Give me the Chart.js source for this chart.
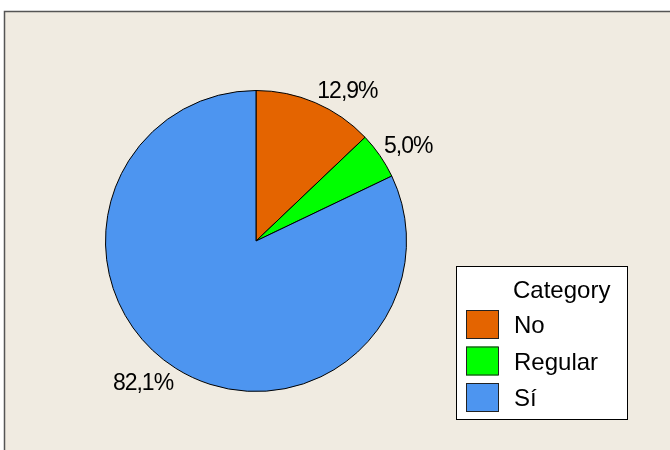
<!DOCTYPE html>
<html>
<head>
<meta charset="utf-8">
<script src="https://cdn.jsdelivr.net/npm/chart.js@4.4.1/dist/chart.umd.min.js"></script>
<style>
    html, body { margin: 0; padding: 0; background: #ffffff; }
    canvas { display: block; }
</style>
</head>
<body>
<canvas id="pieChart" width="670" height="450"></canvas>
<script>
// Respuestas por categoría (%)
var categories = ['No', 'Regular', 'Sí'];
var percents = [12.9, 5.0, 82.1];
var sliceColors = ['#e46400', '#00ff00', '#4d95f0'];
var legendTitle = 'Category';

var FONT = '"Liberation Sans", Arial, sans-serif';

// Beige panel with the dark frame on top/left
var framePlugin = {
    id: 'frame',
    beforeDraw: function (chart) {
        var ctx = chart.ctx;
        ctx.save();
        ctx.fillStyle = '#ffffff';
        ctx.fillRect(0, 0, chart.width, chart.height);
        ctx.fillStyle = '#f0ebe1';
        ctx.fillRect(4, 11, chart.width, chart.height);
        ctx.strokeStyle = '#555555';
        ctx.lineWidth = 1.5;
        ctx.beginPath();
        ctx.moveTo(4.5, chart.height);
        ctx.lineTo(4.5, 11.5);
        ctx.lineTo(chart.width, 11.5);
        ctx.stroke();
        ctx.restore();
    }
};

// Percent labels: the inner corner of each label box sits just outside the arc
var sliceLabelPlugin = {
    id: 'sliceLabels',
    afterDatasetsDraw: function (chart) {
        var ctx = chart.ctx;
        var meta = chart.getDatasetMeta(0);
        ctx.save();
        ctx.font = '23px ' + FONT;
        ctx.letterSpacing = '-1px';
        ctx.fillStyle = '#000000';
        ctx.textBaseline = 'alphabetic';
        meta.data.forEach(function (arc, i) {
            var text = percents[i].toFixed(1).replace('.', ',') + '%';
            var mid = (arc.startAngle + arc.endAngle) / 2;
            var r = arc.outerRadius + 5;
            var px = arc.x + r * Math.cos(mid);
            var py = arc.y + r * Math.sin(mid);
            var m = ctx.measureText('0');
            var capH = m.actualBoundingBoxAscent;
            ctx.textAlign = Math.cos(mid) >= 0 ? 'left' : 'right';
            var y = Math.sin(mid) < 0 ? py : py + capH;
            ctx.fillText(text, px, y);
        });
        ctx.restore();
    }
};

// Boxed legend on the right
var boxLegendPlugin = {
    id: 'boxLegend',
    afterDraw: function (chart) {
        var ctx = chart.ctx;
        var ds = chart.data.datasets[0];
        ctx.save();
        ctx.fillStyle = '#ffffff';
        ctx.fillRect(456, 266, 172, 154);
        ctx.strokeStyle = '#000000';
        ctx.lineWidth = 1;
        ctx.strokeRect(456.5, 266.5, 171, 153);

        ctx.fillStyle = '#000000';
        ctx.font = '24px ' + FONT;
        ctx.textAlign = 'left';
        ctx.textBaseline = 'alphabetic';
        ctx.fillText(legendTitle, 513, 298);

        chart.data.labels.forEach(function (label, i) {
            var top = 310 + i * 36.5;
            ctx.fillStyle = ds.backgroundColor[i];
            ctx.fillRect(466, top, 32, 29);
            ctx.strokeStyle = '#222222';
            ctx.strokeRect(466.5, top + 0.5, 32, 28);
            ctx.fillStyle = '#000000';
            ctx.fillText(label, 514, top + 23);
        });
        ctx.restore();
    }
};

new Chart(document.getElementById('pieChart'), {
    type: 'pie',
    data: {
        labels: categories,
        datasets: [{
            data: percents,
            backgroundColor: sliceColors,
            borderColor: '#000000',
            borderWidth: 1,
            hoverOffset: 0
        }]
    },
    options: {
        responsive: false,
        animation: false,
        layout: {
            padding: { left: 105, top: 90, right: 263, bottom: 58 }
        },
        plugins: {
            legend: { display: false },
            tooltip: { enabled: false }
        }
    },
    plugins: [framePlugin, sliceLabelPlugin, boxLegendPlugin]
});
</script>
</body>
</html>
